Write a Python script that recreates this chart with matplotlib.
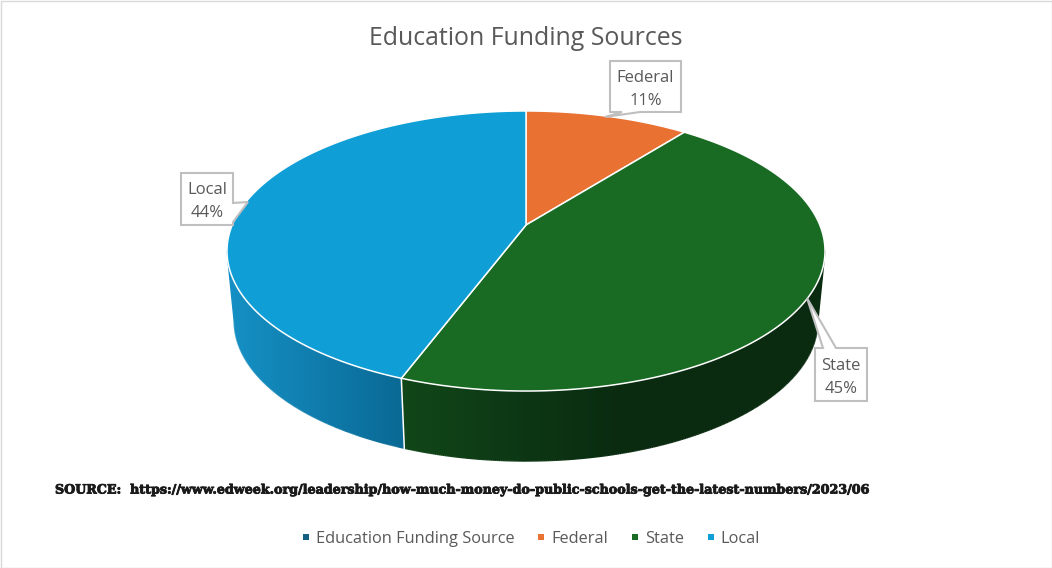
import matplotlib
matplotlib.use("Agg")
import matplotlib.pyplot as plt
import matplotlib.patheffects as pe
import numpy as np
from matplotlib.collections import LineCollection
from matplotlib.colors import LinearSegmentedColormap
from matplotlib.lines import Line2D
from matplotlib.patches import Polygon, Rectangle

plt.rcParams['font.family'] = ['Open Sans', 'DejaVu Sans']

# Data
categories = ["Education Funding Source", "Federal", "State", "Local"]
shares = [0, 10.6, 45.1, 44.3]
colors = ["#156082", "#E97132", "#196B24", "#0F9ED5"]
title = "Education Funding Sources"
source = "SOURCE:  https://www.edweek.org/leadership/how-much-money-do-public-schools-get-the-latest-numbers/2023/06"

# wall gradients, left to right
wall_cmaps = {
    "State": LinearSegmentedColormap.from_list("s", ["#114719", "#0a2b10"]),
    "Local": LinearSegmentedColormap.from_list("l", ["#1590c4", "#0a6a96"]),
}
wall_ranges = {"State": (400, 620), "Local": (230, 400)}

# perspective of the pie, in pixels
K = 0.1857
CX, TOP_Y, BOT_Y = 526, 225, 295
A, B = 135.2, 293.8
BOT_SCALE = 0.976


def project(theta, y0=TOP_Y, xscale=1.0, r=1.0):
    u, v = r * np.sin(theta), r * np.cos(theta)
    d = 1 + K * v
    return CX + xscale * B * u / d, y0 - A * v / d


fig, ax = plt.subplots(figsize=(10.52, 5.68), dpi=100)
ax.set_position([0, 0, 1, 1])
ax.axis("off")

ax.add_patch(Rectangle((0.5, 0.5), 1051, 567, fc="white", ec="#d9d9d9", lw=1, zorder=0))

edges = np.cumsum([0] + shares) / sum(shares) * 2 * np.pi
front_lo, front_hi = np.arccos(-K), 2 * np.pi - np.arccos(-K)

# side walls, only the part that faces the viewer
for i, cat in enumerate(categories):
    lo, hi = max(edges[i], front_lo), min(edges[i + 1], front_hi)
    if shares[i] == 0 or lo >= hi:
        continue
    t = np.linspace(lo, hi, 300)
    x1, y1 = project(t)
    x2, y2 = project(t, BOT_Y, BOT_SCALE)
    outline = np.column_stack([np.r_[x1, x2[::-1]], np.r_[y1, y2[::-1]]])
    x0, x3 = outline[:, 0].min() - 2, outline[:, 0].max() + 2
    y0, y3 = outline[:, 1].min() - 2, outline[:, 1].max() + 2
    gx = np.linspace(x0, x3, 600)
    r0, r1 = wall_ranges[cat]
    grad = wall_cmaps[cat](np.clip((gx - r0) / (r1 - r0), 0, 1))[np.newaxis, :, :3]
    im = ax.imshow(grad, extent=(x0, x3, y3, y0), aspect="auto", interpolation="bilinear", zorder=2)
    im.set_clip_path(Polygon(outline, closed=True, transform=ax.transData))
    # smooth the clipped lower edge
    pts = np.column_stack([x2, y2])
    segs = np.stack([pts[:-1], pts[1:]], axis=1)
    seg_c = wall_cmaps[cat](np.clip(((x2[:-1] + x2[1:]) / 2 - r0) / (r1 - r0), 0, 1))
    ax.add_collection(LineCollection(segs, colors=seg_c, linewidths=1.0, zorder=2.5))
    # tangent side of the wall
    side = 0 if lo == front_lo else -1
    ax.plot([x1[side], x2[side]], [y1[side], y2[side]], color=seg_c[side], lw=1.0, zorder=2.5)

ax.set_xlim(0, 1052)
ax.set_ylim(568, 0)

# seam between state and local wall
seam = edges[3]
sx1, sy1 = project(seam)
sx2, sy2 = project(seam, BOT_Y, BOT_SCALE)
ax.plot([sx1, sx2], [sy1, sy2], color="white", lw=1.1, zorder=3)

# top face
for i, cat in enumerate(categories):
    if shares[i] == 0:
        continue
    t = np.linspace(edges[i], edges[i + 1], 240)
    x, y = project(t)
    cx, cy = project(0.0, r=0.0)
    pts = np.column_stack([np.r_[cx, x], np.r_[cy, y]])
    ax.add_patch(Polygon(pts, closed=True, fc=colors[i], ec="white", lw=1.1, joinstyle="round", zorder=4))

# callouts
callouts = {
    "Federal": [(610, 61), (681, 61), (681, 112), (640, 112), (605, 117), (622, 112), (610, 112)],
    "State": [(815, 348), (823, 348), (807, 298), (836, 348), (867, 348), (867, 401), (815, 401)],
    "Local": [(181, 173), (233, 173), (233, 203), (248, 202), (233, 222), (233, 225), (181, 225)],
}
label_pos = {"Federal": (645.5, 89.5), "State": (841, 377.5), "Local": (207, 201.5)}
for i, cat in enumerate(categories):
    if cat not in callouts:
        continue
    ax.add_patch(Polygon(callouts[cat], closed=True, fc="white", ec="#bfbfbf", lw=1.5, joinstyle="miter", zorder=5))
    lx, ly = label_pos[cat]
    ax.text(lx, ly, f"{cat}\n{round(shares[i])}%", ha="center", va="center", fontsize=12,
            color="#595959", linespacing=1.55, zorder=6)

ax.text(526, 38.5, title, ha="center", va="center", fontsize=17.9, color="#595959")

src = ax.text(55, 490, source, ha="left", va="center", fontsize=9.13, family="DejaVu Serif",
              weight="bold", color="#1a1a1a", zorder=6)
src.set_path_effects([pe.withStroke(linewidth=0.6, foreground="#1a1a1a")])

handles = [Line2D([], [], ls="none", marker="s", ms=5, mew=0, color=c) for c in colors]
ax.legend(handles, categories, ncol=4, frameon=False, loc="center", bbox_to_anchor=(530.5, 539),
          bbox_transform=ax.transData, fontsize=11.8, labelcolor="#595959", handlelength=0.6,
          handletextpad=0.3, columnspacing=1.35)

plt.savefig("out.png", dpi=100)
